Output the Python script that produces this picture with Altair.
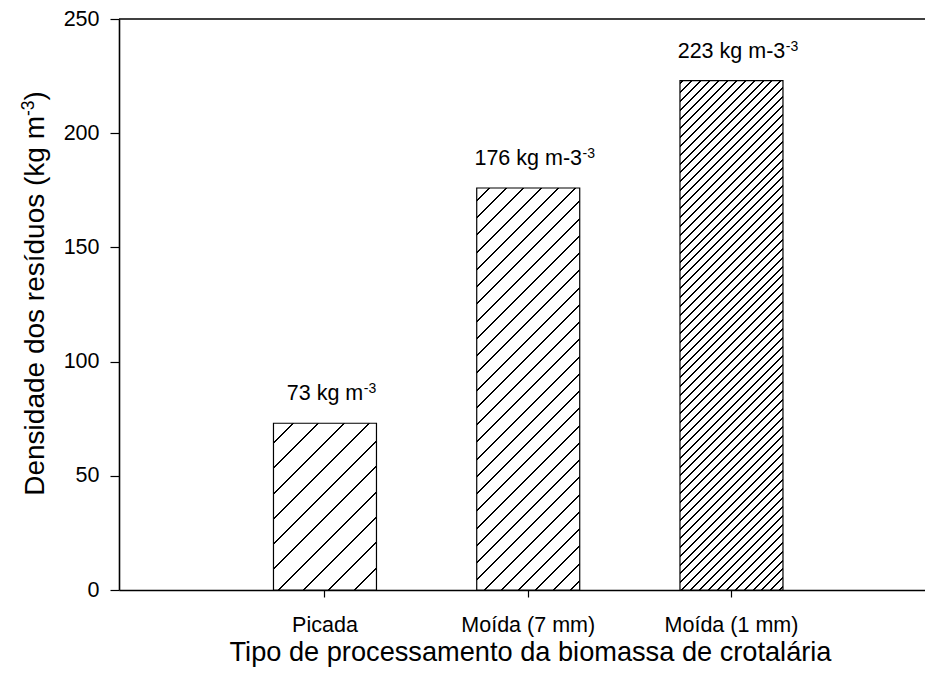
import math
import altair as alt
import pandas as pd

# Residue density by processing type
categories = ["Picada", "Moída (7 mm)", "Moída (1 mm)"]
densities = [73, 176, 223]
label_units = ["kg m", "kg m-3", "kg m-3"]
label_sup = "-3"
y_ticks = [0, 50, 100, 150, 200, 250]
x_title = "Tipo de processamento da biomassa de crotalária"
y_title_main = "Densidade dos resíduos (kg m"
y_title_sup = "-3"
y_title_end = ")"

# Layout / style
FONT = "Liberation Sans"
PLOT_W, PLOT_H = 806, 571
Y_MAX = 250
BAR_STEP = PLOT_W / 3.9656
BAR_W = 103
PAD_INNER = 1 - BAR_W / BAR_STEP
PAD_OUTER = 0.7294
ALIGN = 0.521
LABEL_SIZE = 21.5
SUP_SIZE = 14
X_TITLE_SIZE = 27.2
Y_TITLE_SIZE = 28
Y_TITLE_SUP = 17.5
hatch_spacing = [17.9, 12.2, 6.3]   # perpendicular distance between hatch lines (px)
hatch_phase = [13.9, 8.9, 2.3]      # offset of the first line from the top-left corner (px)

# Arial/Liberation Sans advance widths (per 1000 em) for the label characters
ADV = {d: 556 for d in "0123456789"}
ADV.update({" ": 278, "k": 500, "g": 556, "m": 833, "-": 333})


def text_width(s, size):
    return sum(ADV.get(ch, 556) for ch in s) * size / 1000.0


def hatch_fill(bar_w, bar_h, spacing, phase, line_w=1.414):
    """Diagonal hatching built as a hard-stop linear gradient (bounding-box units)."""
    diag = (bar_w + bar_h) / math.sqrt(2)
    s = (bar_w + bar_h) / (bar_w ** 2 + bar_h ** 2)
    hw = line_w / 2.0 / diag
    stops = [alt.GradientStop(color="white", offset=0)]
    pos = phase
    last = 0.0
    while pos < diag:
        t = pos / diag
        a = max(t - hw, last)
        b = min(t + hw, 1.0)
        stops += [
            alt.GradientStop(color="white", offset=a),
            alt.GradientStop(color="black", offset=a),
            alt.GradientStop(color="black", offset=b),
            alt.GradientStop(color="white", offset=b),
        ]
        last = b
        pos += spacing
    stops.append(alt.GradientStop(color="white", offset=1))
    return alt.LinearGradient(
        gradient="linear", stops=stops,
        x1=0, y1=0, x2=s * bar_w, y2=s * bar_h,
    )


df = pd.DataFrame({"cat": categories, "density": densities, "unit": label_units})

x_enc = alt.X(
    "cat:N", sort=categories,
    scale=alt.Scale(paddingInner=PAD_INNER, paddingOuter=PAD_OUTER, align=ALIGN),
    axis=alt.Axis(
        title=x_title, labelAngle=0, labelFont=FONT, labelFontSize=LABEL_SIZE,
        labelColor="black", labelPadding=17, tickSize=7, tickColor="black",
        tickWidth=1.2, domainColor="black", domainWidth=1.6,
        titleFont=FONT, titleFontSize=X_TITLE_SIZE, titleFontWeight="normal",
        titleColor="black", titlePadding=4, titleX=411,
    ),
)
y_enc = alt.Y(
    "density:Q",
    scale=alt.Scale(domain=[0, Y_MAX], nice=False, zero=True),
    axis=alt.Axis(
        values=y_ticks, title=None, grid=False, labelFont=FONT,
        labelFontSize=LABEL_SIZE, labelColor="black", labelPadding=11,
        tickSize=9, tickColor="black", tickWidth=1.2,
        domainColor="black", domainWidth=1.6,
    ),
)

layers = []

# Hatched bars, one layer per category so each gets its own hatch density
for i, c in enumerate(categories):
    bar_h = densities[i] / Y_MAX * PLOT_H
    fill = hatch_fill(BAR_W, bar_h, hatch_spacing[i], hatch_phase[i])
    layers.append(
        alt.Chart(df).transform_filter(alt.datum.cat == c)
        .mark_bar(fill=fill, stroke="black", strokeWidth=1.2)
        .encode(x=x_enc, y=y_enc)
    )

# Top frame line
layers.append(
    alt.Chart(pd.DataFrame({"top": [Y_MAX]}))
    .mark_rule(color="black", strokeWidth=1.6)
    .encode(y=alt.Y("top:Q"))
)

# Value labels above the bars
layers.append(
    alt.Chart(df)
    .transform_calculate(label="datum.density + ' ' + datum.unit")
    .mark_text(font=FONT, fontSize=LABEL_SIZE, color="black",
               align="center", baseline="alphabetic", dy=-23)
    .encode(x=x_enc, y=y_enc, text="label:N")
)

# Superscript exponent after each label
for i, c in enumerate(categories):
    main = f"{densities[i]} {label_units[i]}"
    half = text_width(main, LABEL_SIZE) / 2.0
    layers.append(
        alt.Chart(df).transform_filter(alt.datum.cat == c)
        .mark_text(font=FONT, fontSize=SUP_SIZE, color="black",
                   align="left", baseline="alphabetic", dx=half + 0.5, dy=-30)
        .encode(x=x_enc, y=y_enc, text=alt.value(label_sup))
    )

# Rotated y-axis title with superscript
TY_X = 44 - 119
TY_Y = 116 - 19
sup_w = text_width(y_title_sup, Y_TITLE_SUP)
title_parts = [
    (y_title_main, Y_TITLE_SIZE, TY_X, TY_Y, "right"),
    (y_title_sup, Y_TITLE_SUP, TY_X - 10, TY_Y, "left"),
    (y_title_end, Y_TITLE_SIZE, TY_X, TY_Y - sup_w, "left"),
]
for txt, size, px, py, al in title_parts:
    layers.append(
        alt.Chart(pd.DataFrame({"t": [txt]}))
        .mark_text(font=FONT, fontSize=size, color="black", angle=270,
                   align=al, baseline="alphabetic")
        .encode(x=alt.value(px), y=alt.value(py), text="t:N")
    )

chart = (
    alt.layer(*layers)
    .properties(
        width=PLOT_W, height=PLOT_H,
        padding={"left": 119, "top": 19, "right": 0, "bottom": 94},
        autosize=alt.AutoSizeParams(type="none"),
        background="white",
    )
    .configure_view(stroke=None)
)

chart.save("out.html", embed_options={"renderer": "svg", "actions": False})
